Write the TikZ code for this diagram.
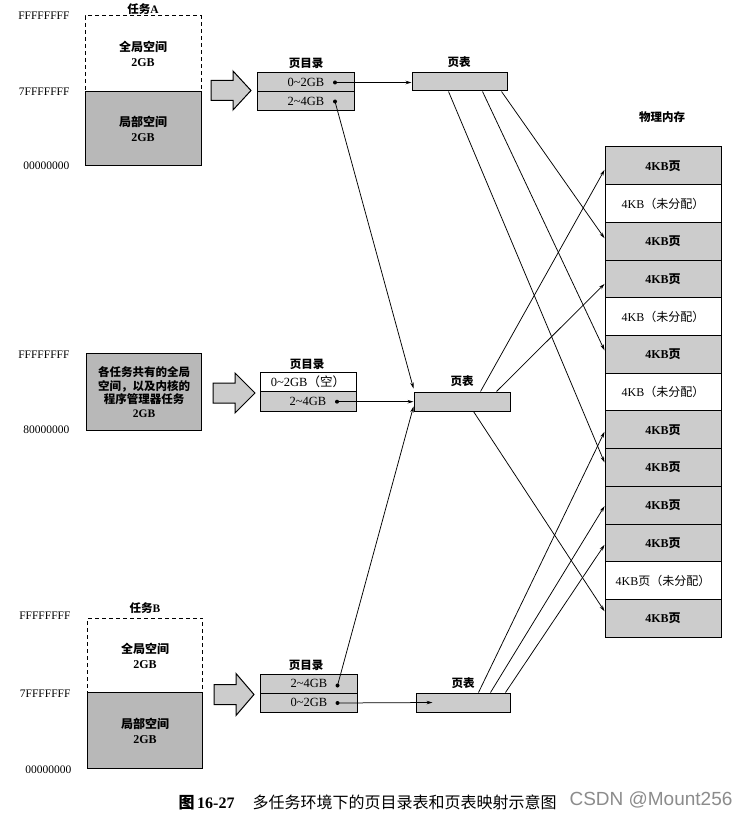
\documentclass[tikz,border=0pt]{standalone}
\usepackage{fontspec}
\setmainfont{Liberation Serif}
\newfontfamily\cjk{Noto Sans CJK SC}
\newfontfamily\wmfont{Liberation Sans}
\usetikzlibrary{arrows.meta,calc}
\newcommand\zh[1]{{\cjk #1}}
\newcommand\zhb[1]{{\cjk\bfseries #1}}
\newcommand\tld{\textasciitilde}
\begin{document}
\begin{tikzpicture}[x=1pt,y=-1pt,
  box/.style={draw, line width=1pt, inner sep=0pt, align=center},
  dashbox/.style={box, dash pattern=on 4pt off 3pt, fill=white,
    font=\bfseries\fontsize{12}{15}\selectfont},
  localbox/.style={box, fill=black!28, font=\bfseries\fontsize{12}{15}\selectfont},
  dirrow/.style={box, fill=black!20, font=\fontsize{12.5}{14}\selectfont},
  dirrowfree/.style={dirrow, fill=white},
  ptbox/.style={box, fill=black!20},
  memp/.style={box, fill=black!20, minimum width=116, minimum height=37.7,
    font=\bfseries\fontsize{12}{14}\selectfont},
  memf/.style={memp, fill=white, font=\fontsize{12}{14}\selectfont},
  lbl/.style={font=\bfseries\fontsize{11.5}{13}\selectfont},
  addr/.style={anchor=east, font=\fontsize{11.5}{12}\selectfont},
  dot/.style={circle, fill, inner sep=0pt, minimum size=4pt},
  conn/.style={-{Stealth[length=6pt,width=3.5pt]}, line width=0.75pt},
  blockarr/.style={draw, line width=1pt, fill=black!20, line join=miter}
]
\useasboundingbox (0,0) rectangle (746,818);
\fill[white] (0,0) rectangle (746,818);

% ---------- Task A ----------
\node[lbl] (tA) at (143,9) {\zhb{任务}A};
\node[dashbox, minimum width=116, minimum height=76] (gA) at (143,54) {\zhb{全局空间}\\2GB};
\node[localbox, minimum width=116, minimum height=74] (lA) at (143,129) {\zhb{局部空间}\\2GB};
\node[addr] (aA1) at (73,16) {FFFFFFFF};
\node[addr] (aA2) at (73,92) {7FFFFFFF};
\node[addr] (aA3) at (73,166) {00000000};
\draw[blockarr, shift={(211,90.5)}] (0,-10) -- (22,-10) -- (22,-19.5) -- (40,0) -- (22,19.5) -- (22,10) -- (0,10) -- cycle;

% page directory A
\node[lbl] (ldA) at (306,63) {\zhb{页目录}};
\node[dirrow, minimum width=97, minimum height=19] (dA1) at (306,82) {0\tld2GB};
\node[dirrow, minimum width=97, minimum height=19] (dA2) at (306,101) {2\tld4GB};
\node[dot] (pA1) at (335,82.5) {};
\node[dot] (pA2) at (335,101.5) {};
% page table A
\node[lbl] (lptA) at (459,62) {\zhb{页表}};
\node[ptbox, minimum width=95, minimum height=18] (ptA) at (459.5,82) {};
\draw[conn] (pA1.center) -- (ptA.west |- pA1.center);

% ---------- Shared global space ----------
\node[localbox, minimum width=115, minimum height=77,
  font={\cjk\bfseries\fontsize{11.5}{13.5}\selectfont}] (gM) at (144,392)
  {各任务共有的全局\\空间，以及内核的\\程序管理器任务\\{\rmfamily\bfseries 2GB}};
\node[addr] (aM1) at (73,355) {FFFFFFFF};
\node[addr] (aM2) at (73,430) {80000000};
\draw[blockarr, shift={(213,393)}] (0,-10) -- (22,-10) -- (22,-20) -- (42,0) -- (22,20) -- (22,10) -- (0,10) -- cycle;

\node[lbl] (ldM) at (307,364) {\zhb{页目录}};
\node[dirrowfree, minimum width=96, minimum height=19.2] (dM1) at (308,382.2) {0\tld2GB\zh{（空）}};
\node[dirrow, minimum width=96, minimum height=19.2] (dM2) at (308,401.4) {2\tld4GB};
\node[dot] (pM) at (337,401.7) {};
\node[lbl] (lptM) at (462,381) {\zhb{页表}};
\node[ptbox, minimum width=96, minimum height=19] (ptM) at (462,401.5) {};
\draw[conn] (pM.center) -- (ptM.west |- pM.center);
\draw[conn] (pA2.center) -- ([yshift=3pt]ptM.north west);

% ---------- Task B ----------
\node[lbl] (tB) at (145,608) {\zhb{任务}B};
\node[dashbox, minimum width=115.4, minimum height=74.4] (gB) at (145,655.5) {\zhb{全局空间}\\2GB};
\node[localbox, minimum width=115.4, minimum height=75.6] (lB) at (145,730.5) {\zhb{局部空间}\\2GB};
\node[addr] (aB1) at (74,616) {FFFFFFFF};
\node[addr] (aB2) at (74,694) {7FFFFFFF};
\node[addr] (aB3) at (75,770) {00000000};
\draw[blockarr, shift={(214,694.5)}] (0,-10) -- (22,-10) -- (22,-21) -- (40,0) -- (22,21) -- (22,10) -- (0,10) -- cycle;

\node[lbl] (ldB) at (306,665) {\zhb{页目录}};
\node[dirrow, minimum width=96.6, minimum height=19] (dB1) at (309,683.8) {2\tld4GB};
\node[dirrow, minimum width=96.6, minimum height=19] (dB2) at (309,702.8) {0\tld2GB};
\node[dot] (pB1) at (337.5,685.5) {};
\node[dot] (pB2) at (337.5,703) {};
\node[lbl] (lptB) at (463,683) {\zhb{页表}};
\node[ptbox, minimum width=94, minimum height=19] (ptB) at (463,702.5) {};
\draw[conn] (pB2.center) -- ([xshift=17pt]ptB.west);
\draw[conn] (pB1.center) -- ([yshift=5pt]ptM.south west);

% ---------- Physical memory ----------
\node[lbl] (lmem) at (662,117) {\zhb{物理内存}};
\foreach \i/\s/\t in {
  1/memp/{4KB\zhb{页}},
  2/memf/{4KB\zh{（未分配）}},
  3/memp/{4KB\zhb{页}},
  4/memp/{4KB\zhb{页}},
  5/memf/{4KB\zh{（未分配）}},
  6/memp/{4KB\zhb{页}},
  7/memf/{4KB\zh{（未分配）}},
  8/memp/{4KB\zhb{页}},
  9/memp/{4KB\zhb{页}},
  10/memp/{4KB\zhb{页}},
  11/memp/{4KB\zhb{页}},
  12/memf/{4KB\zh{页（未分配）}},
  13/memp/{4KB\zhb{页}}}
  \node[\s] (m\i) at (663,{147+37.7*(\i-0.5)}) {\t};

% connectors page tables -> physical memory
\draw[conn] ([xshift=37pt]ptA.south west) -- ([yshift=5pt]m9.west);
\draw[conn] ([xshift=71pt]ptA.south west) -- ([yshift=4pt]m6.west);
\draw[conn] ([xshift=90pt]ptA.south west) -- ([yshift=3pt]m3.west);
\draw[conn] ([xshift=67pt]ptM.north west) -- ([yshift=-4pt]m1.west);
\draw[conn] ([xshift=83pt]ptM.north west) -- ([yshift=-5pt]m4.west);
\draw[conn] ([xshift=60pt]ptM.south west) -- ([yshift=7pt]m13.west);
\draw[conn] ([xshift=63pt]ptB.north west) -- ([yshift=-2pt]m8.west);
\draw[conn] ([xshift=75pt]ptB.north west) -- ([yshift=-1pt]m10.west);
\draw[conn] ([xshift=90pt]ptB.north west) -- ([yshift=-2pt]m11.west);

% ---------- Caption ----------
\node[anchor=west, font=\fontsize{16}{18}\selectfont] (cap) at (175,802)
  {\zhb{图}\,{\bfseries 16-27}\hspace{18pt}\zh{多任务环境下的页目录表和页表映射示意图}};
\node[anchor=west, font=\wmfont\fontsize{19}{20}\selectfont, text=black!45] (wm) at (566,800) {CSDN @Mount256};
\end{tikzpicture}
\end{document}
